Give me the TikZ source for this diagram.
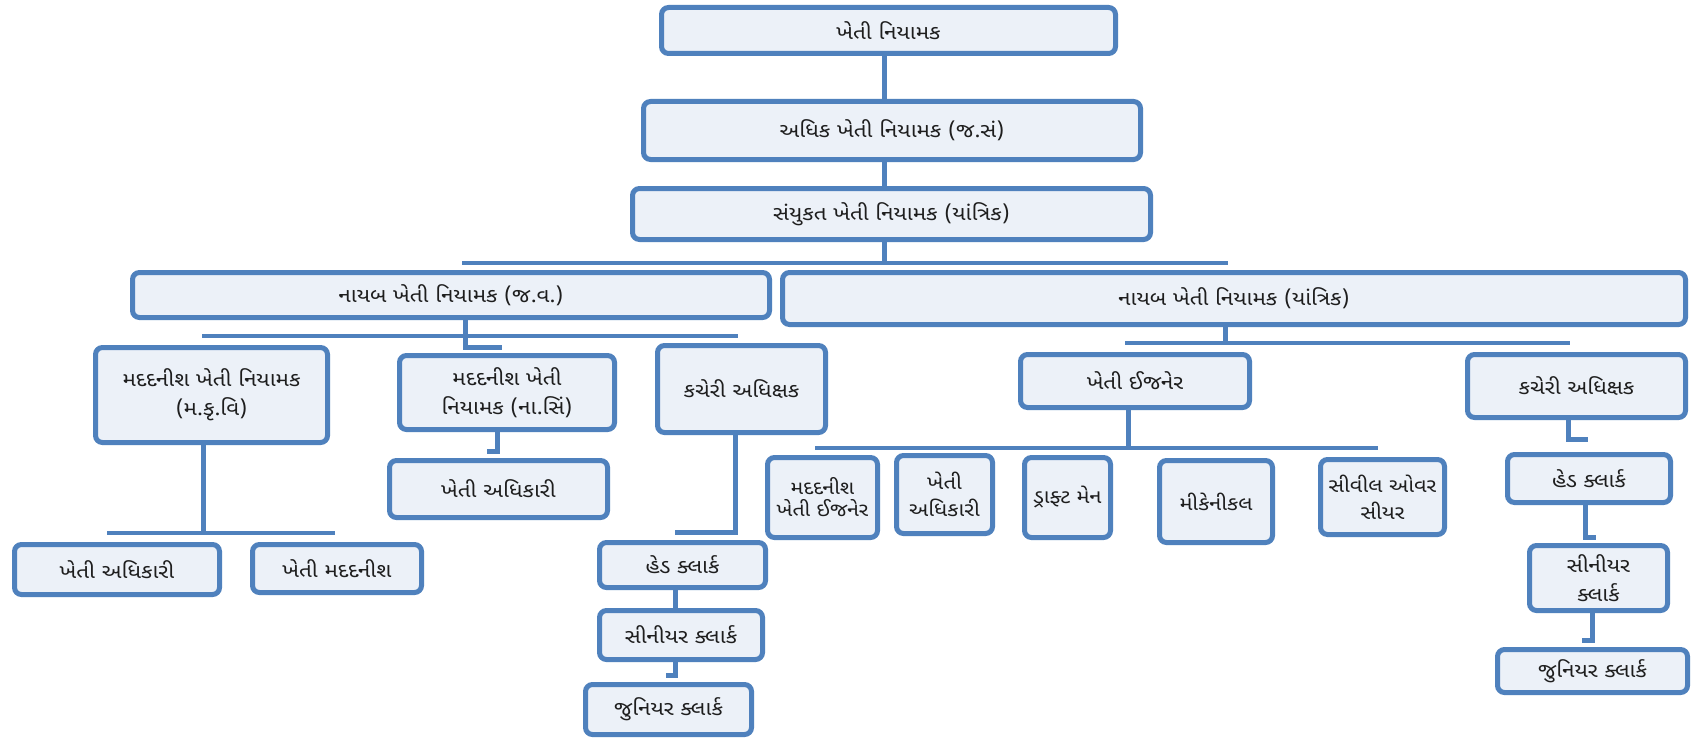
\documentclass[tikz,border=0pt]{standalone}
\usepackage{fontspec}
\newfontfamily\guj[Script=Gujarati,FakeStretch=1.12]{Noto Sans Gujarati UI}
\definecolor{bordblue}{RGB}{79,129,189}
\definecolor{boxfill}{RGB}{236,241,248}
\definecolor{txt}{RGB}{30,30,30}
\tikzset{
  box/.style={draw=bordblue, line width=5pt, fill=boxfill, rounded corners=7pt,
    inner sep=0pt, align=center, text=txt, font=\guj\fontsize{20}{29}\selectfont},
  tightlines/.style={font=\guj\fontsize{19}{22}\selectfont},
  smalllines/.style={font=\guj\fontsize{19.5}{27}\selectfont},
  conn/.style={draw=bordblue, line width=5pt},
  thinconn/.style={draw=bordblue, line width=4.5pt}
}
\newcommand{\orgbox}[7][]{%
  \pgfmathsetmacro{\bxcx}{(#3+#5)/2}%
  \pgfmathsetmacro{\bxcy}{(#4+#6)/2}%
  \pgfmathsetmacro{\bxw}{#5-#3-5}%
  \pgfmathsetmacro{\bxh}{#6-#4-5}%
  \node[box,#1,minimum width=\bxw pt,minimum height=\bxh pt] (#2) at (\bxcx,\bxcy) {#7};%
}
\begin{document}
\begin{tikzpicture}[x=1pt,y=-1pt]
\useasboundingbox[fill=white] (0,0) rectangle (1693,741);

% boxes
\orgbox{A}{659}{5}{1118}{56}{ખેતી નિયામક}
\orgbox{B}{641}{99}{1143}{162}{અધિક ખેતી નિયામક (જ.સં)}
\orgbox{C}{630}{186}{1153}{242}{સંયુકત ખેતી નિયામક (યાંત્રિક)}
\orgbox{D}{130}{270}{772}{320}{નાયબ ખેતી નિયામક (જ.વ.)}
\orgbox{E}{780}{270}{1688}{327}{નાયબ ખેતી નિયામક (યાંત્રિક)}
\orgbox{F}{93}{345}{330}{445}{મદદનીશ ખેતી નિયામક\\(મ.કૃ.વિ)}
\orgbox{G}{397}{353}{617}{432}{મદદનીશ ખેતી\\નિયામક (ના.સિં)}
\orgbox{H}{655}{343}{828}{435}{કચેરી અધિક્ષક}
\orgbox{I}{12}{542}{222}{597}{ખેતી અધિકારી}
\orgbox{J}{250}{542}{424}{595}{ખેતી મદદનીશ}
\orgbox{K}{387}{458}{610}{520}{ખેતી અધિકારી}
\orgbox{L}{597}{540}{768}{590}{હેડ ક્લાર્ક}
\orgbox{M}{597}{608}{765}{662}{સીનીયર ક્લાર્ક}
\orgbox{N}{583}{682}{754}{737}{જુનિયર ક્લાર્ક}
\orgbox{P}{1018}{352}{1252}{410}{ખેતી ઈજનેર}
\orgbox[tightlines]{Q}{765}{455}{880}{540}{મદદનીશ\\ખેતી ઈજનેર}
\orgbox[smalllines]{R}{894}{453}{995}{536}{ખેતી\\અધિકારી}
\orgbox[smalllines]{S}{1022}{455}{1113}{540}{ડ્રાફ્ટ મેન}
\orgbox[smalllines]{T}{1157}{458}{1275}{545}{મીકેનીકલ}
\orgbox[smalllines]{U}{1318}{457}{1447}{537}{સીવીલ ઓવર\\સીયર}
\orgbox{V}{1465}{352}{1688}{420}{કચેરી અધિક્ષક}
\orgbox{W}{1505}{452}{1673}{505}{હેડ ક્લાર્ક}
\orgbox{X}{1527}{543}{1670}{613}{સીનીયર\\ક્લાર્ક}
\orgbox{Y}{1495}{647}{1690}{695}{જુનિયર ક્લાર્ક}

% connector reference coordinates
\coordinate (xtop) at (884,0);
\coordinate (bar1L) at (462,263);  \coordinate (bar1R) at (1228,263);
\coordinate (xD) at (465,0);       \coordinate (tD) at (502,347);
\coordinate (bar2L) at (202,336);  \coordinate (bar2R) at (738,336);
\coordinate (xF) at (203,0);
\coordinate (bar3L) at (107,533);  \coordinate (bar3R) at (335,533);
\coordinate (xG) at (497,0);       \coordinate (tG) at (487,451);
\coordinate (xH) at (735,0);       \coordinate (tH) at (675,532);
\coordinate (xL) at (675,0);       \coordinate (tM) at (666,675);
\coordinate (xE) at (1225,0);
\coordinate (bar4L) at (1125,343); \coordinate (bar4R) at (1570,343);
\coordinate (xP) at (1128,0);
\coordinate (bar5L) at (815,448);  \coordinate (bar5R) at (1378,448);
\coordinate (xV) at (1568,0);      \coordinate (tV) at (1588,439);
\coordinate (xW) at (1585,0);      \coordinate (tW) at (1596,537);
\coordinate (xX) at (1592,0);      \coordinate (tX) at (1582,640);

% connectors
\draw[conn] (A.south -| xtop) -- (B.north -| xtop);
\draw[conn] (B.south -| xtop) -- (C.north -| xtop);
\draw[conn] (C.south -| xtop) -- (bar1L -| xtop);
\draw[thinconn] (bar1L) -- (bar1R);

\draw[conn] (D.south -| xD) -- (tD -| xD) -- (tD);
\draw[thinconn] (bar2L) -- (bar2R);

\draw[conn] (F.south -| xF) -- (bar3L -| xF);
\draw[thinconn] (bar3L) -- (bar3R);

\draw[conn] (G.south -| xG) -- (tG -| xG) -- (tG);
\draw[conn] (H.south -| xH) -- (tH -| xH) -- (tH);
\draw[conn] (L.south -| xL) -- (M.north -| xL);
\draw[conn] (M.south -| xL) -- (tM -| xL) -- (tM);

\draw[conn] (E.south -| xE) -- (bar4L -| xE);
\draw[thinconn] (bar4L) -- (bar4R);
\draw[conn] (P.south -| xP) -- (bar5L -| xP);
\draw[thinconn] (bar5L) -- (bar5R);

\draw[conn] (V.south -| xV) -- (tV -| xV) -- (tV);
\draw[conn] (W.south -| xW) -- (tW -| xW) -- (tW);
\draw[conn] (X.south -| xX) -- (tX -| xX) -- (tX);
\end{tikzpicture}
\end{document}
